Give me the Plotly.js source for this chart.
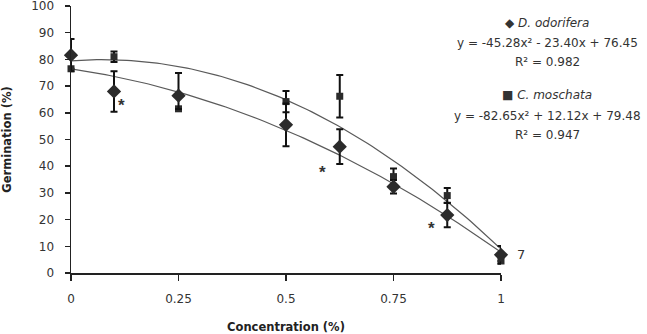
<!DOCTYPE html>
<html>
<head>
<meta charset="utf-8">
<script src="https://cdn.plot.ly/plotly-3.0.1.min.js"></script>
<style>
  html, body { margin: 0; padding: 0; background: #ffffff; }
  #chart { width: 647px; height: 334px; }
</style>
</head>
<body>
<div id="chart"></div>
<script>
// Extract concentration (%) tested
const concentration = [0, 0.1, 0.25, 0.5, 0.625, 0.75, 0.875, 1];

// Germination (%) of D. odorifera (diamonds) with error bar extents
const odoriferaGerm = [81.6, 68, 66.4, 55.5, 47.3, 32.3, 21.7, 6.8];
const odoriferaErrUp = [6, 7.6, 8.5, 8, 6.5, 2.5, 4.6, 3.3];
const odoriferaErrDown = [6, 7.6, 5, 8, 6.5, 2.5, 4.6, 3.3];

// Germination (%) of C. moschata (squares) with error bars
const moschataGerm = [76.5, 81, 61.5, 64.2, 66.2, 36.1, 29, 4.5];
const moschataErr = [0, 2, 0, 4, 8, 3, 2.8, 0];

// Polynomial trend-line coefficients [a, b, c] for y = a x^2 + b x + c
const odoriferaFit = [-45.28, -23.40, 76.45];
const moschataFit = [-82.65, 12.12, 79.48];

// Axis ticks
const xTickVals = [0, 0.25, 0.5, 0.75, 1];
const xTickText = ['0', '0.25', '0.5', '0.75', '1'];

// Significance marks and the value label next to the last point
const starX = [0.118, 0.584, 0.838];
const starY = [64.2, 39.2, 18.2];
const endLabel = '7';

function fitCurve(coef) {
  const xs = [], ys = [];
  for (let i = 0; i <= 100; i++) {
    const x = i / 100;
    xs.push(x);
    ys.push(coef[0] * x * x + coef[1] * x + coef[2]);
  }
  return { x: xs, y: ys };
}

const fitO = fitCurve(odoriferaFit);
const fitM = fitCurve(moschataFit);

const lineColor = '#5a5a5a';
const markColor = '#2b2b2b';

const traces = [
  {
    x: fitM.x, y: fitM.y, mode: 'lines', type: 'scatter',
    line: { color: lineColor, width: 1.2 }, hoverinfo: 'skip', showlegend: false
  },
  {
    x: fitO.x, y: fitO.y, mode: 'lines', type: 'scatter',
    line: { color: lineColor, width: 1.2 }, hoverinfo: 'skip', showlegend: false
  },
  {
    x: concentration, y: moschataGerm, mode: 'markers', type: 'scatter',
    name: 'C. moschata', cliponaxis: false, showlegend: false,
    marker: { symbol: 'square', size: 7, color: markColor },
    error_y: { type: 'data', array: moschataErr, visible: true,
               color: '#111', thickness: 2, width: 3.5 }
  },
  {
    x: concentration, y: odoriferaGerm, mode: 'markers', type: 'scatter',
    name: 'D. odorifera', cliponaxis: false, showlegend: false,
    marker: { symbol: 'diamond', size: 11, color: markColor },
    error_y: { type: 'data', symmetric: false, array: odoriferaErrUp,
               arrayminus: odoriferaErrDown, visible: true,
               color: '#111', thickness: 2, width: 3.5 }
  }
];

const txtFont = { family: 'DejaVu Sans, Verdana, sans-serif', size: 12, color: '#333' };

const annotations = [];
starX.forEach((sx, i) => {
  annotations.push({
    x: sx, y: starY[i], xref: 'x', yref: 'y', text: '<b>*</b>', showarrow: false,
    xanchor: 'center', yanchor: 'middle', yshift: -4,
    font: { family: 'Liberation Sans, Arial, sans-serif', size: 17, color: '#333333' }
  });
});
annotations.push({
  x: 1, y: odoriferaGerm[7], xref: 'x', yref: 'y', text: endLabel, showarrow: false,
  xanchor: 'left', yanchor: 'middle', xshift: 14,
  font: { family: 'DejaVu Sans, sans-serif', size: 13, color: '#333' }
});

// Legend block with fitted equations (right margin)
const legendX = (547 - 71) / 430;
function py(p) { return (273 - p) / 267; }
const legendRows = [
  { text: '\u25C6 <i>D. odorifera</i>', y: 23 },
  { text: 'y = -45.28x\u00B2 - 23.40x + 76.45', y: 43 },
  { text: 'R\u00B2 = 0.982', y: 62 },
  { text: '\u25A0 <i>C. moschata</i>', y: 95 },
  { text: 'y = -82.65x\u00B2 + 12.12x + 79.48', y: 116 },
  { text: 'R\u00B2 = 0.947', y: 135 }
];
legendRows.forEach(r => {
  annotations.push({
    x: legendX, y: py(r.y), xref: 'paper', yref: 'paper', text: r.text,
    showarrow: false, xanchor: 'center', yanchor: 'middle', font: txtFont
  });
});

const layout = {
  width: 647, height: 334,
  margin: { l: 71, r: 146, t: 6, b: 61 },
  paper_bgcolor: '#ffffff', plot_bgcolor: '#ffffff',
  showlegend: false,
  font: { family: 'DejaVu Sans, Verdana, sans-serif', size: 12, color: '#333' },
  xaxis: {
    range: [0, 1], tickvals: xTickVals, ticktext: xTickText,
    showgrid: false, zeroline: false, showline: true,
    linecolor: '#222', linewidth: 1.5, ticks: 'outside', ticklen: 6,
    tickcolor: '#222', tickwidth: 1.5, ticklabelstandoff: 8,
    tickfont: { size: 12, color: '#333' },
    title: { text: '<b>Concentration (%)</b>', standoff: 19,
             font: { size: 11.5, color: '#222' } }
  },
  yaxis: {
    range: [0, 100], dtick: 10, tick0: 0,
    showgrid: false, zeroline: false, showline: true,
    linecolor: '#222', linewidth: 1.5, ticks: 'outside', ticklen: 5,
    tickcolor: '#222', tickwidth: 1.5, ticklabelstandoff: 8,
    ticklabeloverflow: 'allow',
    tickfont: { size: 12, color: '#333' },
    title: { text: '<b>Germination (%)</b>', standoff: 24,
             font: { size: 11.5, color: '#222' } }
  },
  annotations: annotations
};

Plotly.newPlot('chart', traces, layout, { staticPlot: true, displayModeBar: false });
</script>
</body>
</html>
